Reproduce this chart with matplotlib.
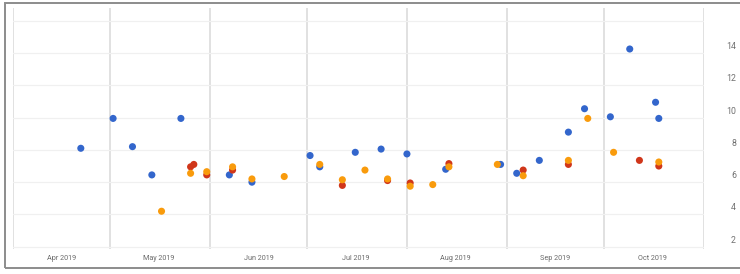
import matplotlib
matplotlib.use("Agg")
import matplotlib.pyplot as plt
import matplotlib.dates as mdates
import matplotlib.transforms as mtransforms
from matplotlib.patches import Rectangle
import numpy as np

plt.rcParams['font.family'] = ['Roboto', 'DejaVu Sans']

# ---- data ----
blue_dates = ["2019-04-22", "2019-05-02", "2019-05-08", "2019-05-14", "2019-05-23",
              "2019-06-07", "2019-06-14", "2019-07-02", "2019-07-05", "2019-07-16",
              "2019-07-24", "2019-08-01", "2019-08-13", "2019-08-30", "2019-09-04",
              "2019-09-11", "2019-09-20", "2019-09-25", "2019-10-03", "2019-10-09",
              "2019-10-17", "2019-10-18"]
blue_vals = [8.1, 9.95, 8.2, 6.45, 9.95,
             6.45, 6.0, 7.65, 6.95, 7.85,
             8.05, 7.75, 6.8, 7.1, 6.55,
             7.35, 9.1, 10.55, 10.05, 14.25,
             10.95, 9.95]

orange_dates = ["2019-05-17", "2019-05-26", "2019-05-31", "2019-06-08", "2019-06-14",
                "2019-06-24", "2019-07-05", "2019-07-12", "2019-07-19", "2019-07-26",
                "2019-08-02", "2019-08-09", "2019-08-14", "2019-08-29", "2019-09-06",
                "2019-09-20", "2019-09-26", "2019-10-04", "2019-10-18"]
orange_vals = [4.2, 6.55, 6.65, 6.95, 6.2,
               6.35, 7.1, 6.15, 6.75, 6.2,
               5.75, 5.85, 6.95, 7.1, 6.4,
               7.35, 9.95, 7.85, 7.25]

red_dates = ["2019-05-26", "2019-05-27", "2019-05-31", "2019-06-08", "2019-07-12",
             "2019-07-26", "2019-08-02", "2019-08-14", "2019-09-06", "2019-09-20",
             "2019-10-12", "2019-10-18"]
red_vals = [6.95, 7.1, 6.45, 6.75, 5.8,
            6.1, 5.95, 7.15, 6.75, 7.1,
            7.35, 7.0]

month_starts = ["2019-04-01", "2019-05-01", "2019-06-01", "2019-07-01",
                "2019-08-01", "2019-09-01", "2019-10-01", "2019-11-01"]
month_labels = ["Apr 2019", "May 2019", "Jun 2019", "Jul 2019",
                "Aug 2019", "Sep 2019", "Oct 2019"]
y_ticks = [2, 4, 6, 8, 10, 12, 14, 16]
y_labels = ["2", "4", "6", "8", "10", "12", "14", ""]

# ---- figure ----
W, H = 740, 274
fig = plt.figure(figsize=(W / 100, H / 100), dpi=100)
fig.patch.set_facecolor("white")

# outer frame
fig.patches.append(Rectangle((4.5 / W, 1 - 267.5 / H), (W + 10) / W, (264.5) / H,
                             transform=fig.transFigure, fill=False,
                             edgecolor="#8c8c8c", linewidth=1.4, zorder=0))

left, right, top, bottom = 13, 704, 8, 249
ax = fig.add_axes([left / W, 1 - bottom / H, (right - left) / W, (bottom - top) / H])
ax.set_facecolor("white")

to_d = lambda lst: np.array(lst, dtype="datetime64[D]")
ms = to_d(month_starts)
mids = ms[:-1] + (ms[1:] - ms[:-1]) / 2

ax.scatter(to_d(blue_dates), blue_vals, s=26, color="#3366cc", edgecolors="none", zorder=3)
ax.scatter(to_d(red_dates), red_vals, s=26, color="#d0361a", edgecolors="none", zorder=4)
ax.scatter(to_d(orange_dates), orange_vals, s=26, color="#f99b0c", edgecolors="none", zorder=5)

ax.set_xlim(ms[0], ms[-1])
ax.set_ylim(1.86, 16.79)

for s in ax.spines.values():
    s.set_visible(False)

# vertical month gridlines
ax.set_xticks(ms)
ax.set_xticklabels([""] * len(ms))
ax.set_xticks(mids, minor=True)
ax.set_xticklabels(month_labels, minor=True)
ax.tick_params(axis="x", which="both", length=0)
ax.tick_params(axis="x", which="minor", pad=4.5, labelsize=5.2, labelcolor="#6a6a6a")
ax.grid(True, axis="x", which="major", color="#dedede", linewidth=1.3, zorder=0)

# horizontal gridlines and right labels
ax.set_yticks(y_ticks)
ax.set_yticklabels(y_labels)
ax.yaxis.tick_right()
ax.tick_params(axis="y", length=0, pad=23, labelsize=6.3, labelcolor="#707070")
off = mtransforms.ScaledTranslation(0, 7.5 / 100, fig.dpi_scale_trans)
for lbl in ax.get_yticklabels():
    lbl.set_horizontalalignment("right")
    lbl.set_transform(lbl.get_transform() + off)
ax.grid(True, axis="y", color="#f0f0f0", linewidth=0.9, zorder=0)
ax.set_axisbelow(True)

fig.savefig("out.png", dpi=100, facecolor="white")
